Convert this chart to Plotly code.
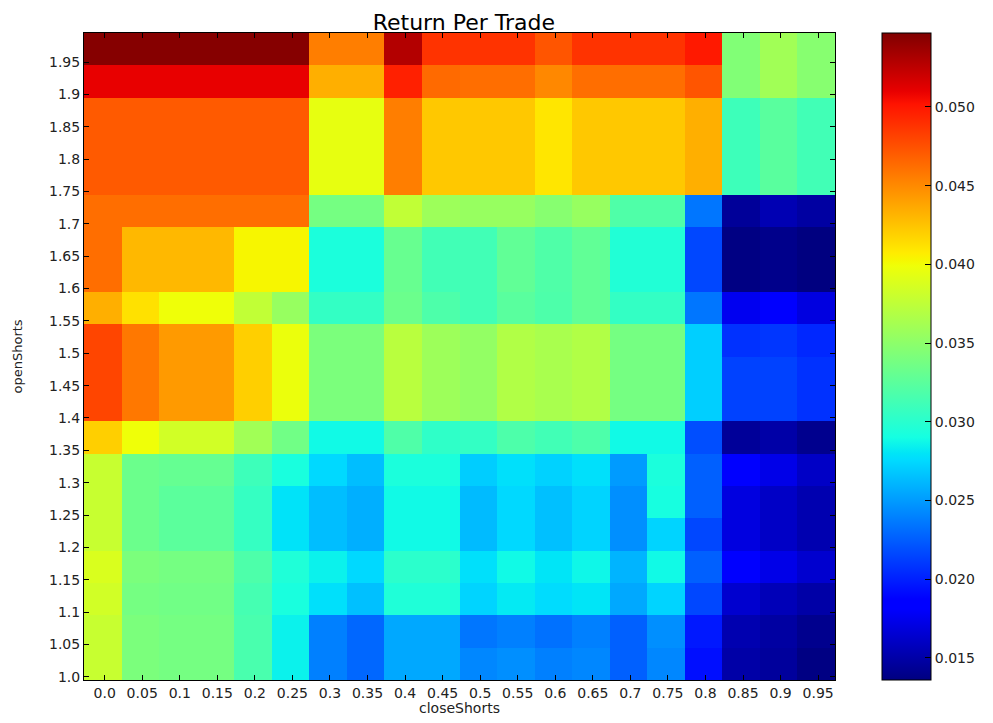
import numpy as np
import plotly.graph_objects as go

# ---- data ----
close_shorts = ["0.0", "0.05", "0.1", "0.15", "0.2", "0.25", "0.3", "0.35", "0.4", "0.45",
                "0.5", "0.55", "0.6", "0.65", "0.7", "0.75", "0.8", "0.85", "0.9", "0.95"]
open_shorts = ["1.0", "1.05", "1.1", "1.15", "1.2", "1.25", "1.3", "1.35", "1.4", "1.45",
               "1.5", "1.55", "1.6", "1.65", "1.7", "1.75", "1.8", "1.85", "1.9", "1.95"]

r_1_00 = [0.0379, 0.0341, 0.0338, 0.0338, 0.0316, 0.0285, 0.0239, 0.0229, 0.0255, 0.0255,
          0.0242, 0.0245, 0.0239, 0.0242, 0.0226, 0.0242, 0.0193, 0.0150, 0.0146, 0.0137]
r_1_05 = [0.0379, 0.0341, 0.0338, 0.0338, 0.0316, 0.0285, 0.0239, 0.0229, 0.0255, 0.0255,
          0.0235, 0.0239, 0.0233, 0.0239, 0.0226, 0.0245, 0.0197, 0.0153, 0.0148, 0.0141]
r_1_10 = [0.0384, 0.0338, 0.0336, 0.0336, 0.0314, 0.0292, 0.0278, 0.0265, 0.0295, 0.0295,
          0.0273, 0.0282, 0.0276, 0.0280, 0.0255, 0.0273, 0.0216, 0.0164, 0.0156, 0.0150]
r_1_15 = [0.0388, 0.0341, 0.0338, 0.0338, 0.0318, 0.0295, 0.0285, 0.0275, 0.0301, 0.0301,
          0.0278, 0.0288, 0.0280, 0.0287, 0.0260, 0.0288, 0.0226, 0.0182, 0.0173, 0.0164]
r_1_20 = [0.0379, 0.0333, 0.0325, 0.0325, 0.0306, 0.0279, 0.0264, 0.0258, 0.0288, 0.0288,
          0.0263, 0.0275, 0.0265, 0.0273, 0.0245, 0.0273, 0.0216, 0.0170, 0.0161, 0.0153]
r_1_25 = [0.0379, 0.0333, 0.0325, 0.0325, 0.0306, 0.0279, 0.0264, 0.0258, 0.0288, 0.0288,
          0.0263, 0.0275, 0.0265, 0.0273, 0.0245, 0.0291, 0.0226, 0.0170, 0.0161, 0.0153]
r_1_30 = [0.0379, 0.0333, 0.0330, 0.0330, 0.0310, 0.0292, 0.0275, 0.0264, 0.0293, 0.0293,
          0.0270, 0.0278, 0.0272, 0.0278, 0.0250, 0.0293, 0.0226, 0.0182, 0.0173, 0.0161]
r_1_35 = [0.0420, 0.0399, 0.0384, 0.0384, 0.0360, 0.0336, 0.0288, 0.0288, 0.0319, 0.0303,
          0.0305, 0.0318, 0.0312, 0.0318, 0.0288, 0.0288, 0.0219, 0.0145, 0.0150, 0.0141]
r_1_40 = [0.0480, 0.0458, 0.0443, 0.0443, 0.0420, 0.0397, 0.0341, 0.0341, 0.0372, 0.0358,
          0.0353, 0.0368, 0.0364, 0.0368, 0.0338, 0.0338, 0.0271, 0.0214, 0.0214, 0.0207]
r_1_45 = [0.0480, 0.0458, 0.0443, 0.0443, 0.0420, 0.0397, 0.0341, 0.0341, 0.0372, 0.0358,
          0.0353, 0.0368, 0.0364, 0.0368, 0.0338, 0.0338, 0.0271, 0.0214, 0.0214, 0.0207]
r_1_50 = [0.0480, 0.0458, 0.0443, 0.0443, 0.0420, 0.0397, 0.0341, 0.0341, 0.0372, 0.0358,
          0.0353, 0.0368, 0.0364, 0.0368, 0.0338, 0.0338, 0.0271, 0.0207, 0.0209, 0.0203]
r_1_55 = [0.0434, 0.0412, 0.0399, 0.0399, 0.0376, 0.0355, 0.0305, 0.0305, 0.0333, 0.0318,
          0.0312, 0.0324, 0.0318, 0.0328, 0.0305, 0.0305, 0.0235, 0.0176, 0.0182, 0.0170]
r_1_60 = [0.0462, 0.0430, 0.0430, 0.0430, 0.0403, 0.0403, 0.0293, 0.0293, 0.0331, 0.0312,
          0.0312, 0.0328, 0.0319, 0.0328, 0.0296, 0.0296, 0.0216, 0.0137, 0.0140, 0.0136]
r_1_65 = [0.0462, 0.0430, 0.0430, 0.0430, 0.0403, 0.0403, 0.0293, 0.0293, 0.0331, 0.0312,
          0.0312, 0.0328, 0.0319, 0.0328, 0.0296, 0.0296, 0.0216, 0.0137, 0.0140, 0.0136]
r_1_70 = [0.0462, 0.0462, 0.0462, 0.0462, 0.0462, 0.0462, 0.0338, 0.0338, 0.0376, 0.0358,
          0.0355, 0.0355, 0.0347, 0.0355, 0.0319, 0.0319, 0.0235, 0.0145, 0.0154, 0.0148]
r_1_75 = [0.0471, 0.0471, 0.0471, 0.0471, 0.0471, 0.0471, 0.0395, 0.0395, 0.0455, 0.0423,
          0.0423, 0.0423, 0.0410, 0.0423, 0.0423, 0.0423, 0.0434, 0.0310, 0.0324, 0.0312]
r_1_80 = [0.0471, 0.0471, 0.0471, 0.0471, 0.0471, 0.0471, 0.0395, 0.0395, 0.0455, 0.0423,
          0.0423, 0.0423, 0.0410, 0.0423, 0.0423, 0.0423, 0.0434, 0.0310, 0.0324, 0.0312]
r_1_85 = [0.0471, 0.0471, 0.0471, 0.0471, 0.0471, 0.0471, 0.0395, 0.0395, 0.0455, 0.0423,
          0.0423, 0.0423, 0.0410, 0.0423, 0.0423, 0.0423, 0.0434, 0.0310, 0.0324, 0.0312]
r_1_90 = [0.0510, 0.0510, 0.0510, 0.0510, 0.0510, 0.0510, 0.0434, 0.0434, 0.0496, 0.0464,
          0.0462, 0.0462, 0.0451, 0.0462, 0.0462, 0.0462, 0.0473, 0.0344, 0.0360, 0.0347]
r_1_95 = [0.0545, 0.0545, 0.0545, 0.0545, 0.0545, 0.0545, 0.0455, 0.0455, 0.0529, 0.0488,
          0.0488, 0.0488, 0.0473, 0.0488, 0.0488, 0.0488, 0.0499, 0.0344, 0.0360, 0.0347]

colorbar_ticks = [0.015, 0.020, 0.025, 0.030, 0.035, 0.040, 0.045, 0.050]
z_min, z_max = 0.0136, 0.0547

z = [r_1_00, r_1_05, r_1_10, r_1_15, r_1_20, r_1_25, r_1_30, r_1_35, r_1_40, r_1_45,
     r_1_50, r_1_55, r_1_60, r_1_65, r_1_70, r_1_75, r_1_80, r_1_85, r_1_90, r_1_95]

# ---- matplotlib "jet" colorscale ----
_red = [(0, 0), (0.35, 0), (0.66, 1), (0.89, 1), (1, 0.5)]
_green = [(0, 0), (0.125, 0), (0.375, 1), (0.64, 1), (0.91, 0), (1, 0)]
_blue = [(0, 0.5), (0.11, 1), (0.34, 1), (0.65, 0), (1, 0)]
stops = sorted(set([p[0] for p in _red + _green + _blue]))
def _ch(seg, t):
    return float(np.interp(t, [p[0] for p in seg], [p[1] for p in seg]))
jet = [[t, "rgb(%d,%d,%d)" % (round(255 * _ch(_red, t)), round(255 * _ch(_green, t)),
                               round(255 * _ch(_blue, t)))] for t in stops]

nx = len(close_shorts)
ny = len(open_shorts)
font = "DejaVu Sans"

# the page body adds an 8px offset, so the figure is drawn 8px smaller
W, H = 985, 715

fig = go.Figure(go.Heatmap(
    z=z, x=list(range(nx)), y=list(range(ny)),
    colorscale=jet, zmin=z_min, zmax=z_max,
    colorbar=dict(
        x=1.062, xanchor="left", xpad=0, y=0.5, yanchor="middle", ypad=0,
        len=1, lenmode="fraction", thickness=49,
        outlinewidth=1, outlinecolor="black",
        tickvals=colorbar_ticks, ticktext=["%.3f" % v for v in colorbar_ticks],
        ticks="inside", ticklen=6, tickcolor="black",
        tickfont=dict(family=font, size=14, color="#222"),
    ),
))

fig.update_layout(
    width=W, height=H,
    margin=dict(l=76, r=158, t=25, b=43, autoexpand=False),
    paper_bgcolor="white", plot_bgcolor="white",
    title=dict(text="Return Per Trade", x=0.4628, xanchor="center",
               yref="container", y=1 - 14 / H, yanchor="middle",
               font=dict(family=font, size=22, color="black")),
    xaxis=dict(
        range=[-0.5, nx - 0.5], tickmode="array",
        tickvals=[i + 0.05 for i in range(nx)], ticktext=close_shorts,
        ticks="inside", ticklen=5, tickcolor="black",
        showline=True, linecolor="black", linewidth=1, mirror="ticks",
        showgrid=False, zeroline=False,
        tickfont=dict(family=font, size=14, color="#222"),
    ),
    yaxis=dict(
        range=[-0.5, ny - 0.5], tickmode="array",
        tickvals=[i - 0.4 for i in range(ny)], ticktext=open_shorts,
        ticks="inside", ticklen=5, tickcolor="black",
        showline=True, linecolor="black", linewidth=1, mirror="ticks",
        showgrid=False, zeroline=False,
        tickfont=dict(family=font, size=14, color="#222"),
    ),
    annotations=[
        dict(text="closeShorts", xref="paper", yref="paper", x=0.5, y=-0.043,
             xanchor="center", yanchor="middle", showarrow=False,
             font=dict(family=font, size=14, color="#222")),
        dict(text="openShorts", xref="paper", yref="paper", x=-0.0892, y=0.5,
             xanchor="center", yanchor="middle", textangle=-90, showarrow=False,
             font=dict(family=font, size=13, color="#222")),
    ],
)

fig.write_html("out.html")
